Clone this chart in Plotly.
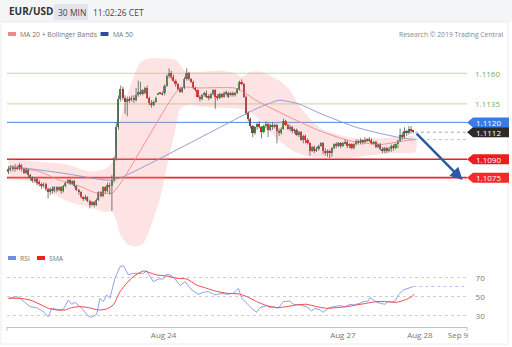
import plotly.graph_objects as go

# ------------------------------------------------------------------ data
opens = [1.1080, 1.1082, 1.1083, 1.1082, 1.1084, 1.1082, 1.1085, 1.1082, 1.1079, 1.1081,
         1.1077, 1.1075, 1.1072, 1.1074, 1.1071, 1.1070, 1.1068, 1.1070, 1.1066, 1.1063,
         1.1066, 1.1064, 1.1067, 1.1065, 1.1067, 1.1064, 1.1068, 1.1071, 1.1073, 1.1070,
         1.1072, 1.1068, 1.1065, 1.1063, 1.1059, 1.1058, 1.1059, 1.1056, 1.1053, 1.1055,
         1.1053, 1.1057, 1.1063, 1.1060, 1.1067, 1.1064, 1.1069, 1.1068, 1.1073, 1.1091,
         1.1116, 1.1139, 1.1147, 1.1140, 1.1137, 1.1139, 1.1138, 1.1140, 1.1138, 1.1142,
         1.1145, 1.1143, 1.1144, 1.1148, 1.1140, 1.1136, 1.1134, 1.1137, 1.1143, 1.1144,
         1.1143, 1.1144, 1.1150, 1.1158, 1.1160, 1.1157, 1.1154, 1.1151, 1.1147, 1.1145,
         1.1148, 1.1155, 1.1160, 1.1155, 1.1153, 1.1148, 1.1146, 1.1141, 1.1139, 1.1142,
         1.1144, 1.1141, 1.1140, 1.1143, 1.1146, 1.1141, 1.1140, 1.1143, 1.1141, 1.1144,
         1.1144, 1.1142, 1.1144, 1.1142, 1.1144, 1.1147, 1.1153, 1.1151, 1.1141, 1.1128,
         1.1123, 1.1117, 1.1111, 1.1116, 1.1119, 1.1116, 1.1112, 1.1117, 1.1119, 1.1114,
         1.1118, 1.1116, 1.1118, 1.1113, 1.1111, 1.1115, 1.1121, 1.1118, 1.1115, 1.1116,
         1.1113, 1.1114, 1.1110, 1.1112, 1.1106, 1.1109, 1.1106, 1.1103, 1.1097, 1.1100,
         1.1097, 1.1098, 1.1101, 1.1103, 1.1097, 1.1095, 1.1097, 1.1095, 1.1099, 1.1102,
         1.1101, 1.1103, 1.1101, 1.1103, 1.1104, 1.1101, 1.1102, 1.1099, 1.1102, 1.1105,
         1.1103, 1.1105, 1.1104, 1.1106, 1.1105, 1.1106, 1.1103, 1.1104, 1.1100, 1.1102,
         1.1098, 1.1097, 1.1099, 1.1097, 1.1098, 1.1101, 1.1099, 1.1102, 1.1105, 1.1110,
         1.1108, 1.1113, 1.1111, 1.1115, 1.1113]
highs = [1.1084, 1.1085, 1.1085, 1.1086, 1.1085, 1.1087, 1.1086, 1.1083, 1.1083, 1.1082,
         1.1078, 1.1076, 1.1075, 1.1075, 1.1073, 1.1071, 1.1071, 1.1071, 1.1067, 1.1067,
         1.1068, 1.1068, 1.1068, 1.1068, 1.1068, 1.1069, 1.1072, 1.1074, 1.1074, 1.1073,
         1.1073, 1.1069, 1.1066, 1.1064, 1.1060, 1.1061, 1.1060, 1.1057, 1.1056, 1.1056,
         1.1058, 1.1064, 1.1064, 1.1068, 1.1068, 1.1071, 1.1071, 1.1077, 1.1092, 1.1120,
         1.1142, 1.1150, 1.1149, 1.1142, 1.1141, 1.1141, 1.1142, 1.1142, 1.1148, 1.1154,
         1.1153, 1.1147, 1.1149, 1.1150, 1.1141, 1.1138, 1.1138, 1.1141, 1.1144, 1.1144,
         1.1145, 1.1151, 1.1159, 1.1164, 1.1162, 1.1159, 1.1155, 1.1152, 1.1149, 1.1149,
         1.1157, 1.1164, 1.1161, 1.1156, 1.1154, 1.1149, 1.1147, 1.1142, 1.1143, 1.1145,
         1.1146, 1.1143, 1.1144, 1.1147, 1.1147, 1.1143, 1.1144, 1.1144, 1.1145, 1.1146,
         1.1145, 1.1145, 1.1145, 1.1145, 1.1148, 1.1154, 1.1155, 1.1152, 1.1142, 1.1129,
         1.1124, 1.1118, 1.1117, 1.1120, 1.1121, 1.1117, 1.1118, 1.1121, 1.1120, 1.1119,
         1.1120, 1.1119, 1.1119, 1.1115, 1.1116, 1.1123, 1.1122, 1.1119, 1.1118, 1.1117,
         1.1115, 1.1115, 1.1113, 1.1113, 1.1110, 1.1110, 1.1107, 1.1104, 1.1101, 1.1101,
         1.1100, 1.1102, 1.1104, 1.1104, 1.1099, 1.1098, 1.1098, 1.1100, 1.1103, 1.1104,
         1.1104, 1.1104, 1.1104, 1.1106, 1.1105, 1.1103, 1.1103, 1.1103, 1.1106, 1.1106,
         1.1107, 1.1106, 1.1108, 1.1107, 1.1108, 1.1107, 1.1105, 1.1105, 1.1103, 1.1103,
         1.1100, 1.1100, 1.1100, 1.1100, 1.1102, 1.1102, 1.1103, 1.1106, 1.1115, 1.1112,
         1.1116, 1.1114, 1.1117, 1.1117, 1.1114]
lows = [1.1078, 1.1080, 1.1080, 1.1080, 1.1081, 1.1081, 1.1080, 1.1078, 1.1078, 1.1075,
        1.1073, 1.1071, 1.1071, 1.1069, 1.1068, 1.1066, 1.1067, 1.1064, 1.1058, 1.1061,
        1.1062, 1.1063, 1.1063, 1.1064, 1.1062, 1.1063, 1.1067, 1.1070, 1.1069, 1.1069,
        1.1067, 1.1064, 1.1061, 1.1058, 1.1056, 1.1057, 1.1055, 1.1050, 1.1052, 1.1051,
        1.1052, 1.1056, 1.1059, 1.1059, 1.1062, 1.1063, 1.1061, 1.1048, 1.1071, 1.1089,
        1.1114, 1.1137, 1.1138, 1.1127, 1.1125, 1.1136, 1.1137, 1.1136, 1.1137, 1.1141,
        1.1142, 1.1142, 1.1143, 1.1139, 1.1134, 1.1132, 1.1133, 1.1136, 1.1143, 1.1143,
        1.1142, 1.1142, 1.1149, 1.1156, 1.1155, 1.1153, 1.1149, 1.1146, 1.1144, 1.1144,
        1.1147, 1.1154, 1.1154, 1.1152, 1.1147, 1.1145, 1.1140, 1.1137, 1.1138, 1.1141,
        1.1140, 1.1138, 1.1139, 1.1142, 1.1131, 1.1138, 1.1139, 1.1140, 1.1140, 1.1142,
        1.1140, 1.1141, 1.1141, 1.1141, 1.1143, 1.1146, 1.1150, 1.1140, 1.1126, 1.1121,
        1.1115, 1.1108, 1.1110, 1.1114, 1.1115, 1.1107, 1.1111, 1.1115, 1.1108, 1.1113,
        1.1114, 1.1115, 1.1103, 1.1109, 1.1110, 1.1114, 1.1117, 1.1114, 1.1113, 1.1111,
        1.1111, 1.1109, 1.1108, 1.1105, 1.1103, 1.1103, 1.1102, 1.1093, 1.1096, 1.1095,
        1.1096, 1.1097, 1.1100, 1.1094, 1.1093, 1.1092, 1.1091, 1.1092, 1.1098, 1.1099,
        1.1100, 1.1099, 1.1100, 1.1102, 1.1099, 1.1099, 1.1098, 1.1098, 1.1101, 1.1102,
        1.1102, 1.1102, 1.1103, 1.1104, 1.1104, 1.1102, 1.1102, 1.1099, 1.1099, 1.1097,
        1.1095, 1.1095, 1.1095, 1.1096, 1.1096, 1.1097, 1.1098, 1.1099, 1.1104, 1.1106,
        1.1107, 1.1109, 1.1110, 1.1111, 1.1111]
closes = [1.1082, 1.1083, 1.1082, 1.1084, 1.1082, 1.1085, 1.1082, 1.1079, 1.1081, 1.1077,
          1.1075, 1.1072, 1.1074, 1.1071, 1.1070, 1.1068, 1.1070, 1.1066, 1.1063, 1.1066,
          1.1064, 1.1067, 1.1065, 1.1067, 1.1064, 1.1068, 1.1071, 1.1073, 1.1070, 1.1072,
          1.1068, 1.1065, 1.1063, 1.1059, 1.1058, 1.1059, 1.1056, 1.1053, 1.1055, 1.1053,
          1.1057, 1.1063, 1.1060, 1.1067, 1.1064, 1.1069, 1.1068, 1.1073, 1.1091, 1.1116,
          1.1139, 1.1147, 1.1140, 1.1137, 1.1139, 1.1138, 1.1140, 1.1138, 1.1142, 1.1145,
          1.1143, 1.1146, 1.1148, 1.1140, 1.1136, 1.1134, 1.1137, 1.1140, 1.1144, 1.1143,
          1.1144, 1.1150, 1.1158, 1.1160, 1.1157, 1.1154, 1.1151, 1.1147, 1.1145, 1.1148,
          1.1155, 1.1160, 1.1155, 1.1153, 1.1148, 1.1146, 1.1141, 1.1139, 1.1142, 1.1144,
          1.1141, 1.1140, 1.1143, 1.1146, 1.1141, 1.1140, 1.1143, 1.1141, 1.1144, 1.1143,
          1.1141, 1.1144, 1.1142, 1.1144, 1.1147, 1.1153, 1.1151, 1.1141, 1.1128, 1.1123,
          1.1117, 1.1111, 1.1116, 1.1119, 1.1116, 1.1112, 1.1117, 1.1119, 1.1114, 1.1118,
          1.1116, 1.1118, 1.1113, 1.1111, 1.1115, 1.1121, 1.1118, 1.1115, 1.1116, 1.1113,
          1.1114, 1.1110, 1.1112, 1.1106, 1.1109, 1.1106, 1.1103, 1.1097, 1.1100, 1.1097,
          1.1098, 1.1101, 1.1103, 1.1097, 1.1095, 1.1097, 1.1095, 1.1099, 1.1102, 1.1101,
          1.1103, 1.1101, 1.1103, 1.1104, 1.1101, 1.1102, 1.1099, 1.1102, 1.1105, 1.1103,
          1.1105, 1.1104, 1.1106, 1.1105, 1.1106, 1.1103, 1.1104, 1.1100, 1.1102, 1.1098,
          1.1097, 1.1099, 1.1097, 1.1098, 1.1101, 1.1099, 1.1102, 1.1105, 1.1110, 1.1108,
          1.1113, 1.1111, 1.1115, 1.1113, 1.1112]

bb_upper_x = [0, 14, 26, 37, 44, 47.5, 48.4, 50.7, 54, 57, 60, 64, 71, 76, 78, 80, 87, 96,
              103, 106, 110, 115, 123, 128, 132, 137, 142, 150, 158, 169, 185]
bb_upper_y = [1.1090, 1.1088, 1.1086, 1.1080, 1.1082, 1.1088, 1.1096, 1.1121, 1.1142, 1.1158,
              1.1169, 1.1172, 1.1172, 1.1171, 1.1167, 1.1162, 1.1161, 1.1162, 1.1160, 1.1157,
              1.1161, 1.1161, 1.1154, 1.1146, 1.1134, 1.1123, 1.1115, 1.1110, 1.1107, 1.1107,
              1.1108]
bb_lower_x = [0, 10, 19, 28, 37, 44, 47, 48.4, 51, 54, 57.5, 61, 64, 69, 72.5, 75.7, 78, 81,
              87, 96, 105, 110, 116.6, 123, 130, 137, 146, 155, 169, 178, 185]
bb_lower_y = [1.1073, 1.1072, 1.1063, 1.1055, 1.1051, 1.1047, 1.1047, 1.1043, 1.1028, 1.1021,
              1.1019, 1.1021, 1.1032, 1.1059, 1.1088, 1.1113, 1.1131, 1.1134, 1.1133, 1.1132,
              1.1131, 1.1128, 1.1117, 1.1105, 1.1096, 1.1092, 1.1091, 1.1091, 1.1094, 1.1095,
              1.1096]
ma20_x = [0, 14, 23, 32.5, 39, 47.5, 78, 87, 103, 107.5, 112.5, 128, 141.6, 155, 169, 180, 185]
ma20_y = [1.1084, 1.1080, 1.1073, 1.1068, 1.1063, 1.1063, 1.1148, 1.1148, 1.1148, 1.1144,
          1.1138, 1.1124, 1.1113, 1.1105, 1.1102, 1.1105, 1.1106]
ma50_x = [0, 11, 27, 40, 48, 112.5, 123, 132, 142, 158, 169, 179.5, 185]
ma50_y = [1.1084, 1.1082, 1.1078, 1.1074, 1.1073, 1.1131, 1.1138, 1.1135, 1.1127, 1.1116,
          1.1111, 1.1107, 1.1106]

rsi_x = [0, 3.7, 5.2, 9.8, 12.8, 15.8, 18.1, 19.6, 23.4, 24.9, 27.2, 28.7, 30.2, 33.3, 36.3,
         37.8, 40.1, 41.6, 43.1, 44.6, 46.1, 48.4, 50.7, 52.2, 54.5, 56.7, 61.3, 62.8, 65.8,
         68.1, 70.4, 71.9, 74.2, 75.7, 78, 80.2, 83.3, 86.3, 88.5, 90.8, 93.9, 96.9, 99.2,
         102.2, 104.5, 106, 108.3, 110.5, 112.8, 114.3, 117.4, 118.9, 120.4, 122.6, 124.9,
         126.4, 128, 129.5, 132.5, 135.5, 137.8, 139.3, 141.6, 143.1, 145.4, 147.6, 150.7,
         153, 155.2, 156.7, 159.8, 161.3, 163.5, 164.3, 165.8, 167.4, 168.9, 171.1, 172.6,
         174.2, 175.7, 177.2, 179.5, 181.7, 184]
rsi_y = [48.6, 50.4, 48.6, 39.8, 38.8, 34.5, 29.3, 38.1, 36.3, 37.0, 46.8, 42.3, 44.4, 38.1,
         30.0, 28.6, 31.8, 48.6, 45.1, 52.1, 48.6, 69.7, 81.9, 83.0, 73.2, 74.9, 74.9, 77.4,
         66.1, 68.9, 68.9, 73.9, 72.5, 68.9, 61.9, 66.1, 57.4, 52.8, 54.9, 55.6, 52.1, 53.9,
         52.8, 53.9, 59.1, 48.6, 43.4, 38.1, 33.9, 38.8, 40.9, 38.8, 39.8, 38.1, 45.1, 45.1,
         45.8, 42.3, 41.6, 39.8, 35.3, 38.1, 36.3, 33.9, 38.1, 39.8, 40.9, 39.8, 42.3, 41.6,
         43.4, 45.1, 45.8, 49.3, 46.8, 44.4, 43.4, 42.3, 45.1, 44.4, 45.8, 52.1, 57.4, 59.1,
         61.0]
sma_x = [0, 5.2, 9.8, 14.3, 18.1, 21.9, 25.7, 28.7, 32.5, 36.3, 41, 44.6, 47.6, 50.7, 53.7,
         56.7, 61.3, 63.6, 67.3, 71.9, 76.4, 81, 85.5, 90.1, 93.9, 99.2, 104.5, 108.3, 112.8,
         117.4, 121.9, 126.4, 131, 135.5, 140.1, 144.6, 149.2, 153.7, 158.3, 162.8, 167.4,
         171.9, 176.4, 180.2, 183.3, 184.4]
sma_y = [48.6, 48.6, 46.8, 42.3, 38.1, 36.3, 36.3, 38.8, 39.8, 38.8, 36.3, 37.4, 41.6, 55.6,
         64.4, 71.4, 77.4, 76.0, 73.2, 72.1, 69.7, 68.9, 62.6, 59.1, 56.3, 53.9, 53.2, 50.4,
         45.1, 40.9, 38.8, 39.8, 41.6, 42.3, 39.8, 38.1, 38.8, 39.8, 41.6, 43.4, 45.1, 45.1,
         44.4, 46.8, 50.4, 52.8]

level_values = [1.1160, 1.1135, 1.1120, 1.1090, 1.1075]
level_labels = ["1.1160", "1.1135", "1.1120", "1.1090", "1.1075"]
last_price = 1.1112
last_price_label = "1.1112"
ma50_last = 1.1106
rsi_last = 61.0
target_price = 1.1073

x_tick_pos = [70.5, 152, 187, 204.3]
x_tick_text = ["Aug 24", "Aug 27", "Aug 28", "Sep 9"]
rsi_ticks = [30, 50, 70]

# ------------------------------------------------------------------ geometry
W, H = 512, 347
ML, MR, MT, MB = 7, 45, 45, 20
PW = W - ML - MR
PH = H - MT - MB
FONT = "Open Sans, Liberation Sans, Arial"


def px(x):
    return (x - ML) / PW


def py(y):
    return (H - MB - y) / PH


price_domain = [py(250), py(45)]
price_range = [1.10161, 1.11830]
rsi_domain = [py(327), py(262)]
rsi_range = [18.4, 86.8]
x_range = [-0.68, 208.4]


def pp(p):
    d0, d1 = price_domain
    r0, r1 = price_range
    return d0 + (p - r0) / (r1 - r0) * (d1 - d0)


n = len(closes)
idx = list(range(n))

fig = go.Figure()

# Bollinger band
fig.add_trace(go.Scatter(
    x=bb_upper_x + bb_lower_x[::-1], y=bb_upper_y + bb_lower_y[::-1],
    mode="lines", fill="toself", fillcolor="rgba(248,150,150,0.27)",
    line=dict(width=0, shape="spline", smoothing=0.6), hoverinfo="skip"))
# MA lines
fig.add_trace(go.Scatter(x=ma50_x, y=ma50_y, mode="lines",
                         line=dict(color="#8796cc", width=0.9, shape="spline", smoothing=0.5)))
fig.add_trace(go.Scatter(x=ma20_x, y=ma20_y, mode="lines",
                         line=dict(color="#f08a8a", width=0.9, shape="spline", smoothing=0.5)))

# wicks
wx, wy = [], []
for i in idx:
    wx += [i, i, None]
    wy += [lows[i], highs[i], None]
fig.add_trace(go.Scatter(x=wx, y=wy, mode="lines", line=dict(color="#5a5a5a", width=0.8),
                         hoverinfo="skip"))
# bodies
body_h = [c - o for o, c in zip(opens, closes)]
body_col = ["#2e9a3a" if c >= o else "#e21b1b" for o, c in zip(opens, closes)]
fig.add_trace(go.Bar(x=idx, y=body_h, base=opens, width=0.72,
                     marker=dict(color=body_col, line=dict(width=0))))

# dotted extensions
fig.add_trace(go.Scatter(x=[n - 0.3, x_range[1]], y=[last_price, last_price], mode="lines",
                         line=dict(color="#a8a8a8", width=1, dash="dot")))
fig.add_trace(go.Scatter(x=[n - 0.3, x_range[1]], y=[ma50_last, ma50_last], mode="lines",
                         line=dict(color="#c4c4c4", width=1, dash="dot")))

# RSI
fig.add_trace(go.Scatter(x=rsi_x, y=rsi_y, mode="lines", xaxis="x2", yaxis="y2",
                         line=dict(color="#8ea4ea", width=1)))
fig.add_trace(go.Scatter(x=sma_x, y=sma_y, mode="lines", xaxis="x2", yaxis="y2",
                         line=dict(color="#f04848", width=1, shape="spline", smoothing=0.6)))
fig.add_trace(go.Scatter(x=[rsi_x[-1], x_range[1]], y=[rsi_last, rsi_last], mode="lines",
                         xaxis="x2", yaxis="y2",
                         line=dict(color="#b4c2f0", width=1, dash="dot")))

shapes = []
annotations = []

# header
shapes.append(dict(type="rect", xref="paper", yref="paper", x0=px(0), x1=px(W), y0=py(22), y1=py(0),
                   fillcolor="#f4f5f7", line=dict(width=0), layer="below"))
shapes.append(dict(type="rect", xref="paper", yref="paper", x0=px(54), x1=px(88), y0=py(20), y1=py(4),
                   fillcolor="#e4e5ea", line=dict(width=0), layer="below"))
shapes.append(dict(type="rect", xref="paper", yref="paper", x0=px(1), x1=px(508), y0=py(344), y1=py(22),
                   fillcolor="rgba(0,0,0,0)", line=dict(color="#ececec", width=1), layer="below"))


def text(x, y, t, size, color, anchor="left"):
    annotations.append(dict(xref="paper", yref="paper", x=px(x), y=py(y), text=t, showarrow=False,
                            xanchor=anchor, yanchor="middle",
                            font=dict(size=size, color=color, family=FONT)))


text(7, 11.5, "<b>EUR/USD</b>", 10, "#333333")
text(56, 12, "30 MIN", 8.5, "#444444")
text(91, 12, "11:02:26 CET", 8.5, "#444444")

# legends
shapes.append(dict(type="rect", xref="paper", yref="paper", x0=px(8), x1=px(16), y0=py(36), y1=py(32),
                   fillcolor="#f08a8a", line=dict(width=0)))
text(18, 34.5, "MA 20 + Bollinger Bands", 6.8, "#777777")
shapes.append(dict(type="rect", xref="paper", yref="paper", x0=px(100.5), x1=px(108.5), y0=py(36), y1=py(32),
                   fillcolor="#2d4f9c", line=dict(width=0)))
text(111, 34.5, "MA 50", 6.8, "#777777")
text(506, 34.5, "Research © 2019 Trading Central", 6.8, "#888888", anchor="right")

shapes.append(dict(type="rect", xref="paper", yref="paper", x0=px(8), x1=px(16), y0=py(260), y1=py(256),
                   fillcolor="#6f8fe6", line=dict(width=0)))
text(18, 258.5, "RSI", 6.8, "#777777")
shapes.append(dict(type="rect", xref="paper", yref="paper", x0=px(37), x1=px(45), y0=py(260), y1=py(256),
                   fillcolor="#f02020", line=dict(width=0)))
text(47, 258.5, "SMA", 6.8, "#777777")

# level lines + labels
level_line_col = ["#bcdca8", "#d3ddb2", "#4a86e8", "#ee1d1d", "#f22626"]
level_line_w = [1, 1.2, 1, 1.5, 1.8]
level_box = [None, None, "#3b7ce4", "#ee1d1d", "#f42a2a"]
hp = 5 / PH  # half box height in paper units
for v, lab, lc, lw, bc in zip(level_values, level_labels, level_line_col, level_line_w, level_box):
    shapes.append(dict(type="line", xref="paper", yref="paper", x0=0, x1=1, y0=pp(v), y1=pp(v),
                       line=dict(color=lc, width=lw), layer="below"))
    if bc is None:
        annotations.append(dict(xref="paper", yref="paper", x=px(473), y=pp(v), text=lab,
                                showarrow=False, xanchor="left", yanchor="middle",
                                font=dict(size=8, color="#6bb356", family=FONT)))

tag_levels = [(1.1120, "1.1120", "#3b7ce4"), (last_price, last_price_label, "#2b2b2b"),
              (1.1090, "1.1090", "#ee1d1d"), (1.1075, "1.1075", "#f42a2a")]
for v, lab, bc in tag_levels:
    yc = pp(v)
    x_tip, x_b, x_r = px(467), px(473), px(509)
    path = (f"M {x_tip},{yc} L {x_b},{yc + hp} L {x_r},{yc + hp} "
            f"L {x_r},{yc - hp} L {x_b},{yc - hp} Z")
    shapes.append(dict(type="path", xref="paper", yref="paper", path=path,
                       fillcolor=bc, line=dict(width=0)))
    annotations.append(dict(xref="paper", yref="paper", x=px(474), y=yc, text=lab,
                            showarrow=False, xanchor="left", yanchor="middle",
                            font=dict(size=8, color="#ffffff", family=FONT)))

# forecast arrow
annotations.append(dict(x=206.4, y=target_price, ax=184.8, ay=last_price,
                        xref="x", yref="y", axref="x", ayref="y", text="",
                        showarrow=True, arrowhead=2, arrowsize=1, arrowwidth=2.5,
                        arrowcolor="#2a5ba6", standoff=0))

# x-axis end ticks
for xe in (7, 467):
    shapes.append(dict(type="line", xref="paper", yref="paper", x0=px(xe), x1=px(xe),
                       y0=py(327), y1=py(331), line=dict(color="#c0c0c0", width=1)))

fig.update_layout(
    width=W, height=H,
    margin=dict(l=ML, r=MR, t=MT, b=MB, pad=0),
    paper_bgcolor="white", plot_bgcolor="white",
    showlegend=False,
    font=dict(family=FONT),
    bargap=0,
    xaxis=dict(domain=[0, 1], range=x_range, visible=False, anchor="y"),
    yaxis=dict(domain=price_domain, range=price_range, visible=False),
    xaxis2=dict(domain=[0, 1], range=x_range, anchor="y2", showline=True, linecolor="#c2c2c2",
                linewidth=1, showgrid=False, zeroline=False, tickmode="array",
                tickvals=x_tick_pos, ticktext=x_tick_text, ticks="",
                tickfont=dict(size=8, color="#777777", family=FONT)),
    yaxis2=dict(domain=rsi_domain, range=rsi_range, side="right", anchor="x2",
                tickmode="array", tickvals=rsi_ticks, showgrid=True, gridcolor="#cfcfcf",
                griddash="dot", gridwidth=1, zeroline=False, showline=False,
                ticks="outside", ticklen=6, tickcolor="rgba(0,0,0,0)",
                tickfont=dict(size=8, color="#777777", family=FONT)),
    shapes=shapes,
    annotations=annotations,
)

fig.write_html("out.html")
